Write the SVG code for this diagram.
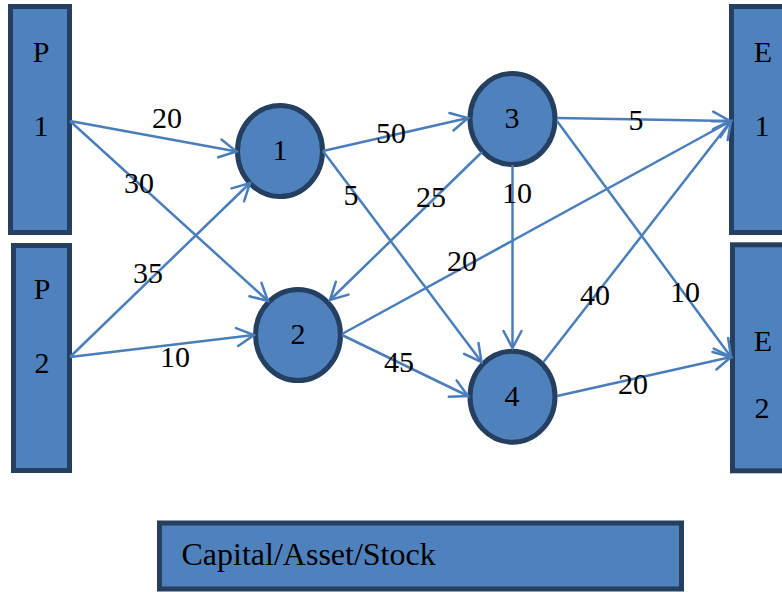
<svg xmlns="http://www.w3.org/2000/svg" width="782" height="592" viewBox="0 0 782 592">
  <defs>
    <style>
      .box { fill: #4F81BD; stroke: #243F60; stroke-width: 5; }
      .node { fill: #4F81BD; stroke: #243F60; stroke-width: 5; }
      .edge { fill: none; stroke: #4A7EBB; stroke-width: 2.5; marker-end: url(#arrow); }
      .t { font-family: "Liberation Serif", "Times New Roman", serif; font-size: 30px; fill: #000; text-anchor: middle; }
      .lbl { font-family: "Liberation Serif", "Times New Roman", serif; font-size: 30px; fill: #000; text-anchor: middle; }
      .cap { font-family: "Liberation Serif", "Times New Roman", serif; font-size: 32px; fill: #000; }
    </style>
    <marker id="arrow" markerUnits="userSpaceOnUse" viewBox="-20 -12 24 24" markerWidth="24" markerHeight="24" refX="0" refY="0" orient="auto">
      <path d="M -17 -9 L 0 0 L -17 9" fill="none" stroke="#4A7EBB" stroke-width="2.5" stroke-linejoin="miter" stroke-linecap="round"/>
    </marker>
  </defs>

  <rect width="782" height="592" fill="#FFFFFF"/>

  <!-- producers -->
  <g id="P1">
    <rect class="box" x="10.5" y="6.5" width="59" height="226"/>
    <text class="t" x="41" y="62">P</text>
    <text class="t" x="41" y="136">1</text>
  </g>
  <g id="P2">
    <rect class="box" x="13.5" y="245.5" width="56" height="225"/>
    <text class="t" x="42" y="299">P</text>
    <text class="t" x="42" y="373">2</text>
  </g>

  <!-- end points -->
  <g id="E1">
    <rect class="box" x="731.5" y="6.5" width="60" height="226"/>
    <text class="t" x="763" y="62">E</text>
    <text class="t" x="762" y="136">1</text>
  </g>
  <g id="E2">
    <rect class="box" x="732.5" y="244.8" width="60" height="226"/>
    <text class="t" x="763" y="351">E</text>
    <text class="t" x="762" y="418">2</text>
  </g>

  <!-- intermediate nodes -->
  <g id="n1">
    <ellipse class="node" cx="280" cy="151" rx="42.5" ry="45.5"/>
    <text class="t" x="280" y="160">1</text>
  </g>
  <g id="n2">
    <ellipse class="node" cx="298" cy="335" rx="42.5" ry="45.5"/>
    <text class="t" x="298" y="344">2</text>
  </g>
  <g id="n3">
    <ellipse class="node" cx="512.5" cy="119" rx="42.5" ry="45.5"/>
    <text class="t" x="512" y="128">3</text>
  </g>
  <g id="n4">
    <ellipse class="node" cx="512.5" cy="396.7" rx="42.5" ry="45.5"/>
    <text class="t" x="512" y="406">4</text>
  </g>

  <!-- stock box -->
  <g id="stock">
    <rect class="box" x="159.5" y="523" width="522" height="66"/>
    <text class="cap" x="181.5" y="565">Capital/Asset/Stock</text>
  </g>

  <!-- flows -->
  <g id="connectors">
    <line class="edge" x1="70" y1="121" x2="236.5" y2="151.5"/>
    <line class="edge" x1="70" y1="121" x2="268" y2="301"/>
    <line class="edge" x1="70" y1="357" x2="250" y2="183"/>
    <line class="edge" x1="70" y1="357" x2="254" y2="335"/>
    <line class="edge" x1="323" y1="151" x2="468" y2="118"/>
    <line class="edge" x1="323" y1="151" x2="481.5" y2="362"/>
    <line class="edge" x1="482" y1="152" x2="330" y2="300"/>
    <line class="edge" x1="512.5" y1="165" x2="512.5" y2="348"/>
    <line class="edge" x1="342" y1="334" x2="731" y2="121"/>
    <line class="edge" x1="342" y1="335" x2="468" y2="396"/>
    <line class="edge" x1="557" y1="118" x2="730" y2="121"/>
    <line class="edge" x1="557" y1="121" x2="731" y2="357"/>
    <line class="edge" x1="543.5" y1="362" x2="731" y2="121"/>
    <line class="edge" x1="557" y1="396" x2="731" y2="357"/>
  </g>

  <!-- flow amounts -->
  <g id="flow-labels">
    <text class="lbl" x="167" y="128">20</text>
    <text class="lbl" x="139" y="193">30</text>
    <text class="lbl" x="148" y="283">35</text>
    <text class="lbl" x="175" y="367">10</text>
    <text class="lbl" x="391" y="143">50</text>
    <text class="lbl" x="351" y="205">5</text>
    <text class="lbl" x="431" y="207">25</text>
    <text class="lbl" x="517" y="203">10</text>
    <text class="lbl" x="462" y="271">20</text>
    <text class="lbl" x="399" y="372">45</text>
    <text class="lbl" x="636" y="130">5</text>
    <text class="lbl" x="685" y="302">10</text>
    <text class="lbl" x="595" y="305">40</text>
    <text class="lbl" x="633" y="394">20</text>
  </g>
</svg>
